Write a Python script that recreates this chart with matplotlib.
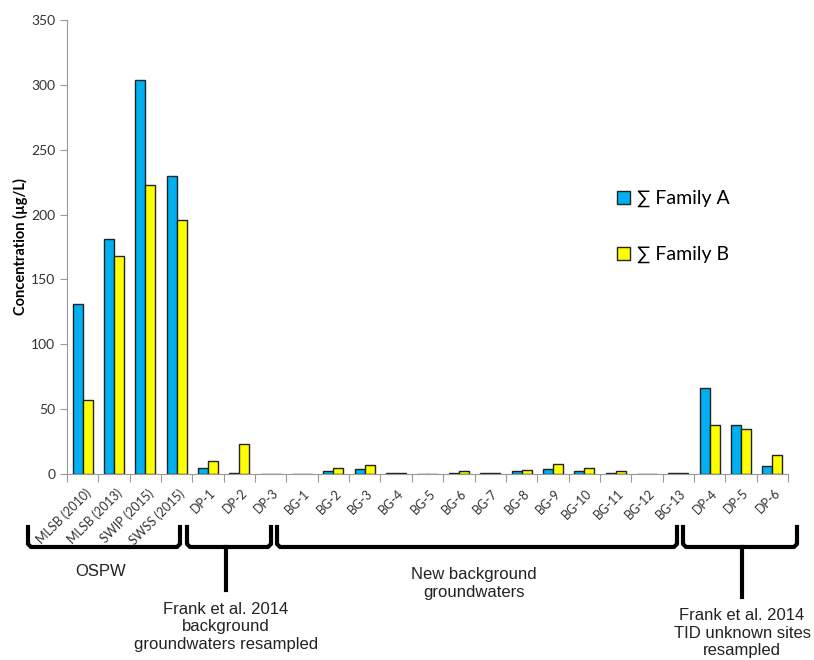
import numpy as np
import matplotlib.pyplot as plt
from matplotlib.lines import Line2D
from matplotlib.patches import Patch

# Data
samples = ['MLSB (2010)', 'MLSB (2013)', 'SWIP (2015)', 'SWSS (2015)',
           'DP-1', 'DP-2', 'DP-3',
           'BG-1', 'BG-2', 'BG-3', 'BG-4', 'BG-5', 'BG-6', 'BG-7', 'BG-8',
           'BG-9', 'BG-10', 'BG-11', 'BG-12', 'BG-13',
           'DP-4', 'DP-5', 'DP-6']
family_a = [131, 181, 304, 230,
            5, 0.6, 0,
            0.3, 2, 3.5, 0.5, 0, 0.6, 0.6, 2,
            4, 2, 0.6, 0.3, 1,
            66, 38, 6]
family_b = [57, 168, 223, 196,
            10, 23, 0,
            0.3, 4.5, 7, 0.8, 0, 2.5, 1, 3,
            7.5, 5, 2.5, 0.3, 1,
            38, 35, 15]

blue = '#00B0F0'
yellow = '#FFFF00'
W, H = 814, 660

fig = plt.figure(figsize=(8.14, 6.6), dpi=100)
ax = fig.add_axes([67 / W, 1 - 474 / H, 721 / W, 454 / H])

x = np.arange(len(samples))
w = 0.32
ax.bar(x - w / 2, family_a, w, color=blue, edgecolor='#222222', linewidth=1)
ax.bar(x + w / 2, family_b, w, color=yellow, edgecolor='#222222', linewidth=1)

ax.set_xlim(-0.5, len(samples) - 0.5)
ax.set_ylim(0, 350)
ax.set_yticks(range(0, 351, 50))
ax.tick_params(axis='y', labelsize=10, labelcolor='#333333', length=5, color='#999999')
for t in ax.get_yticklabels():
    t.set_family('Lato')
ax.set_xticks(np.arange(-0.5, len(samples), 1))
ax.set_xticklabels([])
ax.tick_params(axis='x', length=6, color='#999999')
for i, s in enumerate(samples):
    ax.text(i + 0.05, -10, s, rotation=45, ha='right', va='top', rotation_mode='anchor',
            fontsize=9, color='#333333', family='Lato')

for side in ['top', 'right']:
    ax.spines[side].set_visible(False)
for side in ['left', 'bottom']:
    ax.spines[side].set_color('#999999')

ax.set_ylabel('Concentration (µg/L)', fontsize=10.5, fontweight='bold',
              family=['Lato', 'DejaVu Sans'], labelpad=2)

handles = [Patch(facecolor=blue, edgecolor='#222222'),
           Patch(facecolor=yellow, edgecolor='#222222')]
leg = ax.legend(handles, ['∑ Family A', '∑ Family B'], loc='center left',
                bbox_to_anchor=(0.763, 0.545), frameon=False, labelspacing=2.0,
                borderpad=0, borderaxespad=0,
                handlelength=0.65, handleheight=0.65, handletextpad=0.35,
                prop={'family': ['Lato', 'DejaVu Sans'], 'size': 14})

# Group brackets under the axis, in figure pixels
def bracket(x0, x1, stem=None, stem_end=None):
    top, bot = 527, 547
    xs = [x0, x0, x0 + 3, x1 - 3, x1, x1]
    ys = [top, bot - 3, bot, bot, bot - 3, top]
    fig.add_artist(Line2D([v / W for v in xs], [1 - v / H for v in ys],
                          color='black', lw=3, solid_joinstyle='round'))
    if stem is not None:
        fig.add_artist(Line2D([stem / W, stem / W], [1 - bot / H, 1 - stem_end / H],
                              color='black', lw=3))

bracket(28, 180)
bracket(187, 271, 226, 590)
bracket(277, 677)
bracket(683, 797, 742, 597)

lab = dict(ha='center', va='center', fontsize=12, family='Liberation Sans',
           color='#222222', linespacing=1.25)
fig.text(101 / W, 1 - 572 / H, 'OSPW', **lab)
fig.text(226 / W, 1 - 627 / H, 'Frank et al. 2014\nbackground\ngroundwaters resampled', **lab)
fig.text(474 / W, 1 - 583 / H, 'New background\ngroundwaters', **lab)
fig.text(742 / W, 1 - 633 / H, 'Frank et al. 2014\nTID unknown sites\nresampled', **lab)

fig.savefig('out.png', dpi=100)
